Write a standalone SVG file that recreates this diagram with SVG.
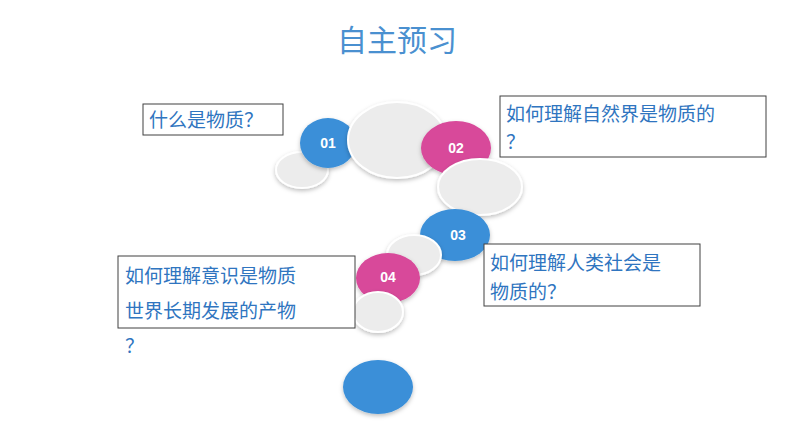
<svg xmlns="http://www.w3.org/2000/svg" width="794" height="447" viewBox="0 0 794 447">
<style>
text{font-family:"Noto Sans CJK SC","Liberation Sans",sans-serif;}
.t{fill:#2f75c0;font-size:19px;}
.box{fill:#fff;stroke:#404040;stroke-width:1;}
.g{fill:#ececec;stroke:#fff;stroke-width:2;filter:url(#sh);}
.b{fill:#3a8fd8;filter:url(#sh);}
.p{fill:#d8489a;filter:url(#sh);}
.n{fill:#fff;font-family:"Liberation Sans",sans-serif;font-size:14px;font-weight:bold;text-anchor:middle;}
</style>
<defs>
<filter id="sh" x="-30%" y="-30%" width="160%" height="160%"><feDropShadow dx="0" dy="2" stdDeviation="2" flood-color="#000" flood-opacity="0.25"/></filter>
</defs>
<rect width="794" height="447" fill="#fff"/>
<text x="397" y="51" text-anchor="middle" style="font-size:30px;fill:#4a90d0">自主预习</text>
<g id="shapes">
<ellipse class="g" cx="302" cy="170" rx="26" ry="18"/>
<ellipse class="b" cx="328" cy="143" rx="28" ry="25"/>
<ellipse class="g" cx="397" cy="140" rx="49" ry="38"/>
<ellipse class="p" cx="456" cy="148" rx="35" ry="27"/>
<ellipse class="g" cx="480" cy="187" rx="42" ry="28"/>
<ellipse class="b" cx="455" cy="235" rx="35" ry="26"/>
<ellipse class="g" cx="414" cy="255" rx="27" ry="20"/>
<ellipse class="p" cx="388" cy="278" rx="32" ry="25"/>
<ellipse class="g" cx="378" cy="312" rx="25" ry="20"/>
<ellipse class="b" cx="378" cy="387" rx="35" ry="27"/>
<text class="n" x="328" y="148">01</text>
<text class="n" x="456" y="153">02</text>
<text class="n" x="458" y="240">03</text>
<text class="n" x="388" y="282">04</text>
</g>
<g id="q1"><rect class="box" x="143" y="104" width="140" height="31"/><text class="t" x="149" y="127">什么是物质？</text></g>
<g id="q2"><rect class="box" x="500" y="96" width="266" height="61"/><text class="t" x="506" y="121">如何理解自然界是物质的</text><text class="t" x="506" y="149">？</text></g>
<g id="q3"><rect class="box" x="484" y="244" width="216" height="62"/><text class="t" x="490" y="270">如何理解人类社会是</text><text class="t" x="490" y="299">物质的？</text></g>
<g id="q4"><rect class="box" x="118" y="256" width="237" height="72"/><text class="t" x="125" y="283">如何理解意识是物质</text><text class="t" x="125" y="318">世界长期发展的产物</text><text class="t" x="125" y="353">？</text></g>
</svg>
